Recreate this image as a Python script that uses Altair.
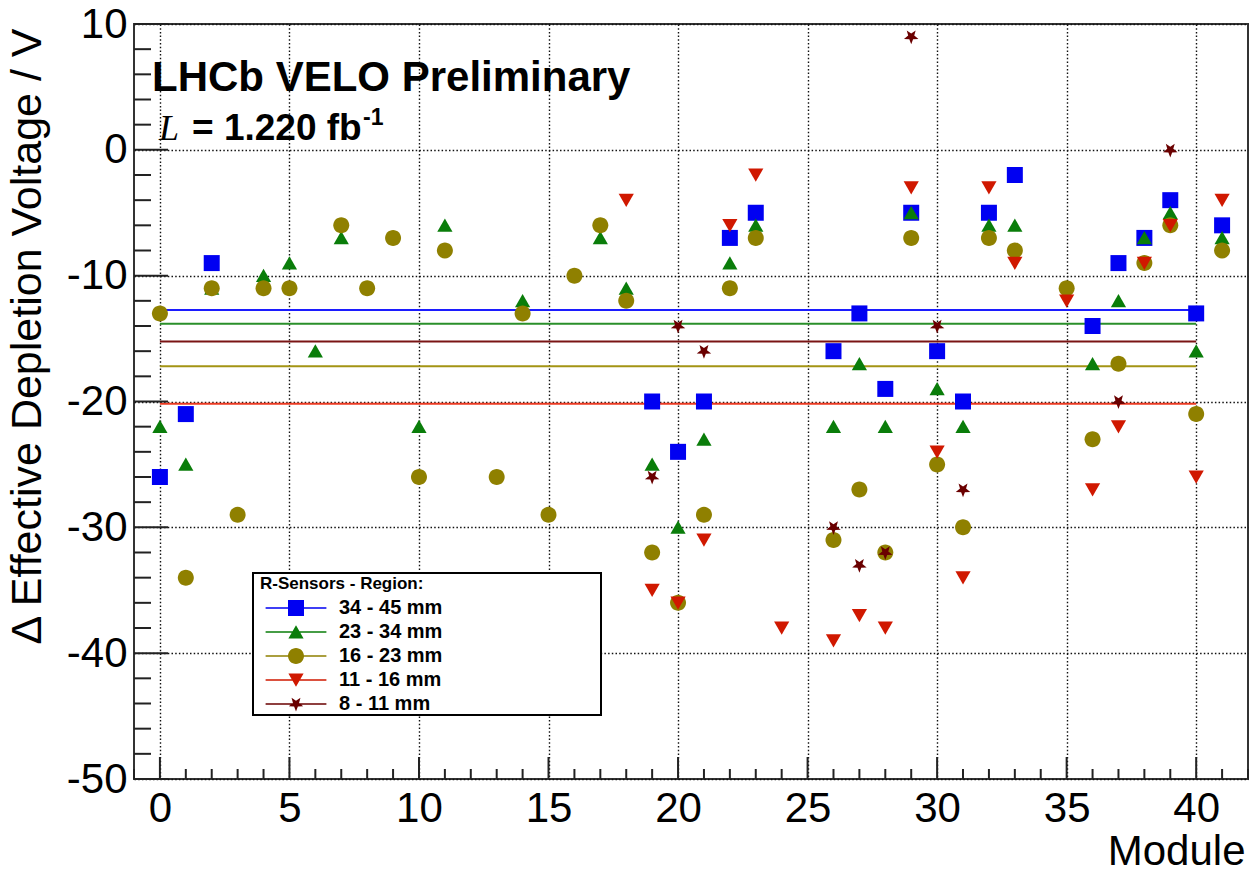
import math
import altair as alt
import pandas as pd

regions = ["34 - 45 mm", "23 - 34 mm", "16 - 23 mm", "11 - 16 mm", "8 - 11 mm"]
colors = ["#0000f2", "#0a7d0a", "#8f8000", "#d01800", "#6a0000"]
line_colors = ["#1c1cff", "#2a8f2a", "#a39414", "#ec3a22", "#7a1414"]

mod_blue = [0, 1, 2, 19, 20, 21, 22, 23, 26, 27, 28, 29, 30, 31, 32, 33, 36, 37, 38, 39, 40, 41]
val_blue = [-26, -21, -9, -20, -24, -20, -7, -5, -16, -13, -19, -5, -16, -20, -5, -2, -14, -9, -7, -4, -13, -6]

mod_green = [0, 1, 2, 4, 5, 6, 7, 10, 11, 14, 17, 18, 19, 20, 21, 22, 23, 26, 27, 28, 29, 30, 31, 32, 33,
             36, 37, 38, 39, 40, 41]
val_green = [-22, -25, -11, -10, -9, -16, -7, -22, -6, -12, -7, -11, -25, -30, -23, -9, -6, -22, -17, -22, -5,
             -19, -22, -6, -6, -17, -12, -7, -5, -16, -7]

mod_olive = [0, 1, 2, 3, 4, 5, 7, 8, 9, 10, 11, 13, 14, 15, 16, 17, 18, 19, 20, 21, 22, 23, 26, 27, 28, 29,
             30, 31, 32, 33, 35, 36, 37, 38, 39, 40, 41]
val_olive = [-13, -34, -11, -29, -11, -11, -6, -11, -7, -26, -8, -26, -13, -29, -10, -6, -12, -32, -36, -29,
             -11, -7, -31, -27, -32, -7, -25, -30, -7, -8, -11, -23, -17, -9, -6, -21, -8]

mod_red = [18, 19, 20, 21, 22, 23, 24, 26, 27, 28, 29, 30, 31, 32, 33, 35, 36, 37, 38, 39, 40, 41]
val_red = [-4, -35, -36, -31, -6, -2, -38, -39, -37, -38, -3, -24, -34, -3, -9, -12, -27, -22, -9, -6, -26, -4]

mod_star = [19, 20, 21, 26, 27, 28, 29, 30, 31, 37, 39]
val_star = [-26, -14, -16, -30, -33, -32, 9, -14, -27, -20, 0]

mean_values = [-12.72, -13.83, -17.19, -20.18, -15.24]
mean_from = [0, 0, 0, 0, 0]
mean_to = [40, 40, 40, 40, 40]

x_labels = [0, 5, 10, 15, 20, 25, 30, 35, 40]
y_labels = [-50, -40, -30, -20, -10, 0, 10]
x_minor = [v for v in range(-1, 43) if v % 5 != 0]
y_minor = [v for v in range(-50, 11, 2) if v % 10 != 0]

# marker outlines in a unit box (scaled by the mark size)
TRI_UP = "M0,-0.85L0.95,0.8L-0.95,0.8Z"
TRI_DOWN = "M-0.95,-0.8L0.95,-0.8L0,0.85Z"
SQUARE = "M-1,-1L1,-1L1,1L-1,1Z"
CIRCLE = "M1,0A1,1 0 1,1 -1,0A1,1 0 1,1 1,0Z"


def star_path(outer=0.95, inner=0.4):
    pts = []
    for k in range(10):
        ang = math.pi / 2 + k * math.pi / 5
        r = outer if k % 2 == 0 else inner
        pts.append((r * math.cos(ang), r * math.sin(ang)))
    return "M" + "L".join(f"{x:.3f},{y:.3f}" for x, y in pts) + "Z"


STAR = star_path()
marker_paths = [SQUARE, TRI_UP, CIRCLE, TRI_DOWN, STAR]
LINE = "M-3.8,-0.1L3.8,-0.1L3.8,0.1L-3.8,0.1Z"
legend_paths = [LINE + p for p in marker_paths]

FONT = "Liberation Sans"
W, H = 1114, 755

xs = alt.Scale(domain=[-1, 42], nice=False, zero=False)
ys = alt.Scale(domain=[-50, 10], nice=False, zero=False)

axis_common = dict(
    grid=True, gridColor="#111", gridDash=[1.5, 2.2], gridWidth=1.4, gridOpacity=1,
    ticks=False, domain=False, labelFont=FONT, labelFontSize=42, labelColor="black",
    labelExpr="toString(datum.value)",
    titleFont=FONT, titleFontWeight="normal", titleColor="black",
)
X_AXIS = alt.Axis(values=x_labels, title="Module", labelPadding=9, titleAnchor="end", titleAlign="right",
                  titleFontSize=42, titleX=1111, titleY=85, titleBaseline="alphabetic", **axis_common)
Y_AXIS = alt.Axis(values=y_labels, title="Δ Effective Depletion Voltage / V", labelPadding=7,
                  titleFontSize=43, titleAngle=270, titleAlign="right", titleBaseline="alphabetic",
                  titleX=-94, titleY=4, **axis_common)


def X(field):
    return alt.X(field, scale=xs, axis=X_AXIS)


def Y(field):
    return alt.Y(field, scale=ys, axis=Y_AXIS)


# legend (drawn from the colour/shape scales of an empty layer)
leg = alt.Legend(
    title="R-Sensors - Region:", orient="none", legendX=126, legendY=552, padding=0,
    titleFont=FONT, titleFontSize=17, titleFontWeight="bold", titleColor="black", titlePadding=5,
    labelFont=FONT, labelFontSize=20, labelFontWeight="bold", labelColor="black",
    symbolSize=256, symbolStrokeWidth=0, symbolOffset=26, labelOffset=33, rowPadding=4,
)
legend_layer = alt.Chart(pd.DataFrame({"region": regions})).transform_filter("false").mark_point(
    filled=True, opacity=1).encode(
    color=alt.Color("region:N", scale=alt.Scale(domain=regions, range=colors), legend=leg),
    shape=alt.Shape("region:N", scale=alt.Scale(domain=regions, range=legend_paths), legend=leg),
)

tick_color = "#222"
y_major_ticks = alt.Chart(pd.DataFrame({"v": y_labels})).mark_rule(color=tick_color, strokeWidth=2).encode(
    y=Y("v:Q"), x=alt.value(0), x2=alt.value(34))
y_minor_ticks = alt.Chart(pd.DataFrame({"v": y_minor})).mark_rule(color=tick_color, strokeWidth=2).encode(
    y=Y("v:Q"), x=alt.value(0), x2=alt.value(17))
x_major_ticks = alt.Chart(pd.DataFrame({"v": x_labels})).mark_rule(color=tick_color, strokeWidth=2).encode(
    x=X("v:Q"), y=alt.value(H), y2=alt.value(H - 22))
x_minor_ticks = alt.Chart(pd.DataFrame({"v": x_minor})).mark_rule(color=tick_color, strokeWidth=2).encode(
    x=X("v:Q"), y=alt.value(H), y2=alt.value(H - 10))

mean_layers = []
for m, a, b, lc in zip(mean_values, mean_from, mean_to, line_colors):
    mean_layers.append(
        alt.Chart(pd.DataFrame({"mean": [m], "x0": [a], "x1": [b]})).mark_rule(
            color=lc, strokeWidth=2).encode(x=X("x0:Q"), x2="x1:Q", y=Y("mean:Q"))
    )

series = [(mod_blue, val_blue), (mod_green, val_green), (mod_olive, val_olive),
          (mod_red, val_red), (mod_star, val_star)]
point_layers = []
for (mods, vals), col, shp in zip(series, colors, marker_paths):
    df = pd.DataFrame({"module": mods, "value": vals})
    point_layers.append(
        alt.Chart(df).mark_point(filled=True, opacity=1, shape=shp, size=256, color=col, strokeWidth=0).encode(
            x=X("module:Q"), y=Y("value:Q"),
        )
    )

legend_box = alt.Chart(pd.DataFrame({"a": [0]})).mark_rect(
    fill="white", stroke="black", strokeWidth=2).encode(
    x=alt.value(119), x2=alt.value(467), y=alt.value(549), y2=alt.value(691))


def label(text, x, y, size, weight="bold", font=FONT, style="normal"):
    return alt.Chart(pd.DataFrame({"t": [text]})).mark_text(
        align="left", baseline="alphabetic", font=font, fontSize=size, fontWeight=weight,
        fontStyle=style, color="black").encode(text="t:N", x=alt.value(x), y=alt.value(y))


texts = [
    label("LHCb VELO Preliminary", 18, 67, 42),
    label("L", 25, 116, 36, weight="normal", font="Liberation Serif", style="italic"),
    label("= 1.220 fb", 58, 116, 37),
    label("-1", 229, 101, 23),
]

chart = alt.layer(
    legend_layer, *mean_layers, *point_layers, y_major_ticks, y_minor_ticks, x_major_ticks, x_minor_ticks,
    legend_box, *texts,
).properties(
    width=W, height=H,
    autosize=alt.AutoSizeParams(type="none"),
    padding={"left": 134, "top": 24, "right": 2, "bottom": 96},
    background="white",
).configure_view(stroke="#333", strokeWidth=2)

chart.save("out.html", embed_options={"renderer": "svg", "actions": False})
